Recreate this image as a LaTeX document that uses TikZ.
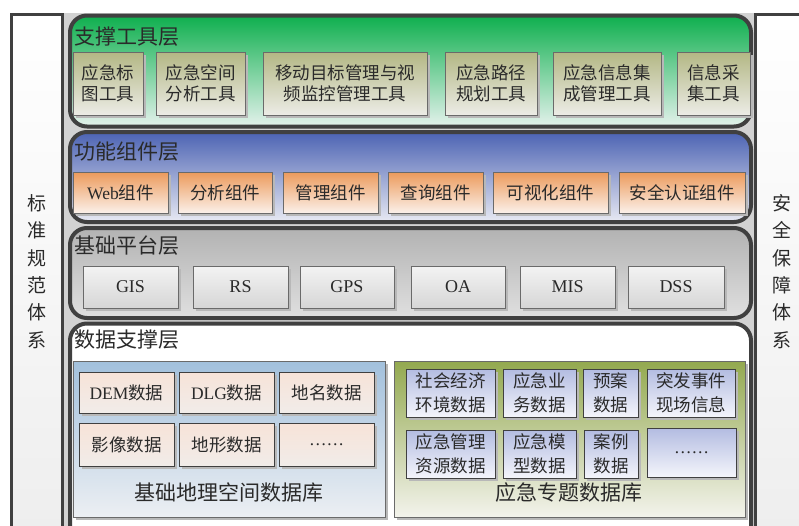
\documentclass[tikz,border=0pt]{standalone}
\usepackage{fontspec}
\setmainfont{Liberation Serif}
\newfontfamily\zh{Noto Sans CJK SC}
\usetikzlibrary{shadows}
\definecolor{edge}{HTML}{404040}
\definecolor{bedge}{HTML}{6A6A6A}
\definecolor{band}{HTML}{D2D2D2}
\definecolor{txt}{HTML}{2A2A2A}
\definecolor{greenT}{HTML}{0EAF4E}
\definecolor{greenB}{HTML}{E4F2EC}
\definecolor{toolT}{HTML}{B3B784}
\definecolor{toolB}{HTML}{ECECE6}
\definecolor{blueT}{HTML}{4C63B3}
\definecolor{blueB}{HTML}{E8EAF3}
\definecolor{compT}{HTML}{EC9A5B}
\definecolor{compB}{HTML}{FBF0E9}
\definecolor{grayT}{HTML}{B2B2B2}
\definecolor{grayB}{HTML}{E0E0E0}
\definecolor{platT}{HTML}{F3F3F3}
\definecolor{platB}{HTML}{D6D6D6}
\definecolor{dbLT}{HTML}{A2C0DC}
\definecolor{dbLB}{HTML}{ECEFF3}
\definecolor{basT}{HTML}{F7E3D8}
\definecolor{basB}{HTML}{F1ECE9}
\definecolor{dbRT}{HTML}{93A94F}
\definecolor{dbRB}{HTML}{F3F3EC}
\definecolor{thmT}{HTML}{B3BCE1}
\definecolor{thmB}{HTML}{F4F5FB}
\newcommand\bx[6]{\node[#1, minimum width={#4-#2}, minimum height={#5-#3}] (#6) at ({(#2+#4)/2},{(#3+#5)/2})}
\begin{document}
\begin{tikzpicture}[x=1pt,y=-1pt,
  layer/.style={draw=edge, line width=4pt, rounded corners=17pt, inner sep=0},
  ltitle/.style={anchor=west, inner sep=0, text=txt, font=\zh\fontsize{21}{24}\selectfont},
  panel/.style={draw=edge, line width=3pt, inner sep=0, top color=white, bottom color=black!7},
  vtext/.style={align=center, inner sep=0, text=txt, font=\zh\fontsize{19}{27.4}\selectfont},
  box/.style={draw=bedge, line width=0.9pt, align=center, inner sep=0, text=txt,
    font=\zh\fontsize{17.5}{21.5}\selectfont,
    drop shadow={shadow xshift=2.5pt, shadow yshift=-2.5pt, fill=black!28, opacity=1}},
  tool/.style={box, top color=toolT, bottom color=toolB},
  comp/.style={box, top color=compT, bottom color=compB},
  plat/.style={box, top color=platT, bottom color=platB, font=\rmfamily\fontsize{18}{21}\selectfont},
  db/.style={draw=bedge, line width=0.9pt, inner sep=0,
    drop shadow={shadow xshift=2.5pt, shadow yshift=-2.5pt, fill=black!28, opacity=1}},
  bas/.style={box, draw=edge, top color=basT, bottom color=basB},
  thm/.style={box, draw=edge, top color=thmT, bottom color=thmB, font=\zh\fontsize{17.5}{23.5}\selectfont},
  dblabel/.style={inner sep=0, text=txt, font=\zh\fontsize{21}{24}\selectfont}]
\useasboundingbox (0,0) rectangle (799,525);
\clip (0,0) rectangle (799,525);
\fill[white] (0,0) rectangle (799,525);
\fill[band] (63,13) rectangle (756,545);
% side panels
\bx{panel}{11.5}{14.5}{62}{560}{lp} {};
\bx{panel}{755}{14.5}{830}{560}{rp} {};
\node[vtext] (lt) at (36.5,271.5) {标\\准\\规\\范\\体\\系};
\node[vtext] (rt) at (781.5,271.5) {安\\全\\保\\障\\体\\系};
% layers
\bx{layer, top color=greenT, bottom color=greenB}{70}{15.5}{751}{126.5}{L1} {};
\bx{layer, top color=blueT, bottom color=blueB}{70}{132}{751}{222}{L2} {};
\bx{layer, top color=grayT, bottom color=grayB}{70}{228}{751}{318}{L3} {};
\bx{layer, fill=white}{70}{323.5}{751}{560}{L4} {};
\node[ltitle] (L1t) at (74,36.5) {支撑工具层};
\node[ltitle] (L2t) at (74,152) {功能组件层};
\node[ltitle] (L3t) at (74,246) {基础平台层};
\node[ltitle] (L4t) at (74,340) {数据支撑层};
% tools
\bx{tool}{73}{52}{143}{115}{t1} {应急标\\图工具};
\bx{tool}{156}{52}{245}{115}{t2} {应急空间\\分析工具};
\bx{tool}{263}{52}{427}{115}{t3} {移动目标管理与视\\频监控管理工具};
\bx{tool}{445}{52}{537}{115}{t4} {应急路径\\规划工具};
\bx{tool}{553}{52}{661}{115}{t5} {应急信息集\\成管理工具};
\bx{tool}{677}{52}{750}{115}{t6} {信息采\\集工具};
% components
\bx{comp}{73}{172}{168}{213}{c1} {{\rmfamily Web}组件};
\bx{comp}{178}{172}{272}{213}{c2} {分析组件};
\bx{comp}{283}{172}{378}{213}{c3} {管理组件};
\bx{comp}{388}{172}{483}{213}{c4} {查询组件};
\bx{comp}{493}{172}{608}{213}{c5} {可视化组件};
\bx{comp}{619}{172}{745}{213}{c6} {安全认证组件};
% platform
\bx{plat}{83}{266}{178}{308}{p1} {GIS};
\bx{plat}{193}{266}{288}{308}{p2} {RS};
\bx{plat}{300}{266}{394}{308}{p3} {GPS};
\bx{plat}{411}{266}{505}{308}{p4} {OA};
\bx{plat}{520}{266}{615}{308}{p5} {MIS};
\bx{plat}{628}{266}{724}{308}{p6} {DSS};
% data dbs
\bx{db, top color=dbLT, bottom color=dbLB}{73}{361}{385}{517}{dbL} {};
\bx{db, top color=dbRT, bottom color=dbRB}{394}{361}{745}{517}{dbR} {};
\bx{bas}{79}{372}{174}{413}{b1} {{\rmfamily DEM}数据};
\bx{bas}{179}{372}{274}{413}{b2} {{\rmfamily DLG}数据};
\bx{bas}{279}{372}{374}{413}{b3} {地名数据};
\bx{bas}{79}{423}{174}{466}{b4} {影像数据};
\bx{bas}{179}{423}{274}{466}{b5} {地形数据};
\bx{bas}{279}{423}{374}{466}{b6} {{\rmfamily ……}};
\node[dblabel] (dbLl) at (229,492) {基础地理空间数据库};
\bx{thm}{406}{369}{495}{417}{r1} {社会经济\\环境数据};
\bx{thm}{503}{369}{576}{417}{r2} {应急业\\务数据};
\bx{thm}{583}{369}{638}{417}{r3} {预案\\数据};
\bx{thm}{647}{369}{735}{417}{r4} {突发事件\\现场信息};
\bx{thm}{406}{430}{495}{478}{r5} {应急管理\\资源数据};
\bx{thm}{503}{430}{576}{478}{r6} {应急模\\型数据};
\bx{thm}{584}{430}{638}{478}{r7} {案例\\数据};
\bx{thm}{647}{428}{736}{477}{r8} {{\rmfamily ……}};
\node[dblabel] (dbRl) at (569,492) {应急专题数据库};
\end{tikzpicture}
\end{document}
